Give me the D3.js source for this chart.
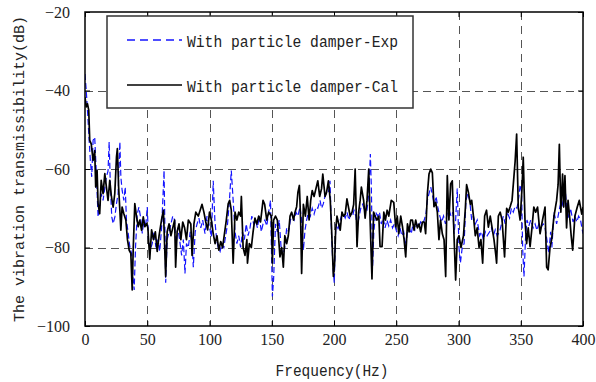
<!DOCTYPE html>
<html>
<head>
<meta charset="utf-8">
<script src="https://cdn.jsdelivr.net/npm/d3@7"></script>
<style>
  html, body { margin: 0; padding: 0; background: #fff; }
  svg { display: block; }
</style>
</head>
<body>
<svg id="chart" width="596" height="382"></svg>
<script>
// Transmissibility spectra: measured (Exp) and calculated (Cal), frequency in Hz, level in dB
const calFreq = [0,1,2,3,3.8,5,6.5,7.8,8.6,9.7,10.5,11.8,13,14.5,15.9,17.2,18.5,19.9,21.2,22.6,23.9,25.3,26,27,28,28.8,29.8,31.2,32.8,34.1,35.5,36.8,37.9,38.7,40,41.4,42.7,44,45.4,46.8,48,49.5,
  50.5,52,53.5,55,56.5,58,59.5,61.6,63,64.8,66,67.5,69,70.5,72,72.8,74,75.5,77,78.5,80,81.5,83,85,86,87.5,89,91,92.5,94,95.5,97,98.5,
  100,101.5,103,104.5,106,107.5,109,110.5,112,113.5,115,116.2,117.5,119,120.5,122,123.5,125,125.6,127,128.5,130,130.5,132,133.6,135,136.5,138,139.5,141,143,144.3,146,147.5,149.7,
  150.5,151.5,153,154.5,156.6,158,159.3,160.5,162,163.3,164.7,166,167.5,168.7,170,171,172.2,173.2,174,175.4,177,178.5,180,181.3,182.5,184,185.5,187,188.5,190,191,192.8,194,195.5,197,198,199.5,
  200.5,201.3,202.4,203.8,205,206.4,207.7,209,210.4,211.8,213,214.5,215.8,217,218.5,219.8,221,222,223.8,225,226.5,227.9,229,230.5,231.8,233,234.5,236,237,238.6,240,241.3,242.7,244,246,248,249.5,
  250.8,252,253.6,255,256.3,257.6,259,260.3,261.6,263,264.3,265.6,267,268.3,269.6,271,272.5,273.6,275,276.3,277.7,279,280.3,281.7,283,284.3,285.6,287,288.4,289.7,291,292.3,293.7,295,296.4,297.7,299,300.4,
  302,304,305.5,306.5,308,309.5,310.6,312,313.5,315,316.5,318,319.4,321,322.5,324,325.5,327,328.5,330,330.6,332,333.5,335,337,338.7,340,341.4,343,344.5,345.5,346.7,348,349.5,351,352,353.4,354.7,356,357.5,359,
  360.5,362,363.5,365.5,367.5,369.5,370.8,372,373.5,374.8,376.7,378.8,380,381,382.2,383.6,384.5,385.5,386.8,388,389.5,390.5,391.7,393.5,395.4,397,399,400];
const calDb = [-41.7,-44.2,-43.4,-45,-52.7,-53.6,-57.8,-55.3,-64.6,-60.3,-68.8,-71.4,-62.9,-66.3,-61.2,-64.6,-68,-62.9,-67,-69.7,-66.3,-56.9,-54.8,-64.6,-70.5,-75.6,-69.7,-71.4,-73,-78,-80.7,-81.5,-90.8,-80.7,-68.8,-72.2,-74.7,-73,-75.6,-72.2,-74.7,-73.9,
  -75,-83,-75.5,-78,-76,-81,-77,-72.7,-70.5,-87.4,-76,-74,-77,-75,-73,-85,-76,-74,-78,-73.5,-75,-78,-73,-74,-82,-74,-71,-72,-70.5,-69,-71,-73.5,-75.5,
  -71,-73,-76.5,-79,-77,-80.7,-78.5,-80,-76.5,-73,-68.9,-68,-70.5,-84,-71,-73,-71,-72,-67,-80,-82,-78,-84,-79,-80,-76,-72.5,-74,-72,-73.5,-68,-69,-73,-71,-72,
  -84,-73,-72,-73,-82.4,-80,-85,-77,-79,-77,-72,-71,-73,-71,-69.6,-66,-64.2,-73,-86.6,-69,-72,-67,-73,-68,-65.5,-67,-65,-63,-67,-65,-61.3,-67,-66,-63,-68,-74.8,-87.4,
  -84,-75.6,-72,-74,-75.6,-71,-72,-71.5,-67.6,-70,-72,-71,-69,-60,-79.8,-71,-68,-64.6,-68,-72.5,-68,-60,-73,-88,-71,-72,-73,-72,-79.8,-79.8,-71,-73,-70.5,-72,-68,-68.5,-74.7,
  -72,-76.5,-72,-74.7,-78,-82.4,-74,-76,-73,-73,-75.6,-73,-75,-74,-76,-73.5,-73.5,-76.5,-66.3,-61.3,-60,-61,-69.6,-68.5,-71,-78,-73,-76.5,-78,-87.4,-61.7,-73,-63.8,-63,-77,-88.3,-78,-77,
  -80,-77,-70,-64,-66,-69,-68,-72,-77,-75,-80,-78,-84,-72,-70.5,-74.8,-72,-75,-78,-82,-84,-72,-71,-73,-82.4,-70,-71,-69.7,-68,-62,-58,-51.1,-69.7,-73,-65,-57,-73,-79,-75,-79.8,-75,
  -69.7,-71,-69.7,-76.5,-73,-69.7,-85,-85.7,-80,-78,-72,-68,-64,-53.7,-71,-61.3,-69.7,-61.7,-75,-68,-73,-77,-80.7,-72,-69.7,-68,-71.5,-69.7];

const expFreq = [0,1,2,3.2,4.3,5.4,6.5,7.8,9,10.5,11.8,13,14.5,16,17.2,18.5,19.4,20.4,21.5,22.6,24,25.3,26.6,28,28.8,29.8,31.2,32.3,33.3,34.7,36,37.4,38.7,39.5,40.6,42,43.3,44.6,46,47.3,48.7,50,
  51,52.5,54,55.5,57,58.5,60,61.5,62.5,63.5,64.8,66,67.5,69,70.5,72,73,74.5,76,77.6,79,80.3,81.5,83,84.5,86,87,88.5,90,91.5,93,94.5,96.4,98,99.5,
  101.5,103,104.3,105.7,107,108.5,110,111.5,113,114.5,116,117.5,119,120.5,122,123.5,125,126.5,128,129.5,131,132.5,134,135.5,137,138.5,140,141.6,143,144.5,146,147.5,149,150.5,
  151.5,153,154.5,156,157.5,159,160.5,162,163.5,165,166.5,168,169.5,171,172.7,174,175.4,176.7,178,179.5,181,182.5,184,185.5,187,188.8,190,191.4,192.7,194,195.5,196.8,198,199.2,200.2,
  201.5,203,204.5,206,207.5,209,210.5,212,213.5,215,216,217.5,218.5,220,221.5,223,224.5,226.5,228,229.2,230,231,232,233.5,235,236.5,238,239.5,241,242.5,244,245.5,247,248.5,250,
  251.5,253,254.5,256,257.6,259,260.5,262,263.5,265,266.5,268,269.5,271,272.5,274,275,276.5,277.7,279,280.5,282,283.5,285,286.5,288,289.5,291,292.5,294,295.5,296.4,297.7,299,300.4,
  301.5,303,304.5,306,307.5,309,310.6,312,313.5,315,317,318.5,320,321.5,323,325,326.5,328,329.5,331,333,334.5,336,337.5,339,341,342.5,344,345.5,347,348.5,349.5,350.7,351.5,352.6,353.8,355,356.5,358,
  360,361.5,363,364.5,366,368,369.5,371,372.5,374,375,376.7,378.8,380,381.5,383,384.3,385.5,387,388.5,390,392,393.5,395,396.5,398,400];
const expDb = [-35.8,-40,-45,-51.9,-57.8,-62,-52.7,-51.9,-60.3,-72.2,-69.7,-66.3,-68,-64.6,-62,-60.5,-53.1,-64.6,-72.2,-73.9,-72.2,-68.8,-66.3,-53.1,-62,-65.4,-68,-64.6,-73,-76.4,-79.8,-81.5,-88.3,-90.8,-79.8,-71.4,-69.7,-72.2,-76.4,-73,-74.7,-69.7,
  -78,-80.5,-79,-76,-80,-78,-81,-75,-68,-60.4,-89,-78,-76,-74,-72,-73,-80,-75,-78,-82,-78,-86.6,-79,-80,-76,-79,-85,-76,-74,-72.5,-75,-73,-76.5,-72,-74,
  -77.3,-63,-73,-78,-80,-81,-79,-80,-77,-74,-68,-60.4,-68,-76,-79,-77,-80,-76,-78,-74,-77,-75,-72,-74,-73,-75,-72,-76,-74,-73,-74.5,-71,-68,-92.5,
  -88,-74,-76,-73,-80,-82,-80,-75,-76,-73,-72,-73,-71,-72,-69.7,-73,-80.7,-75.6,-73,-71,-72,-70,-71.5,-69.7,-70,-68,-70,-68.9,-67,-66,-66,-63,-76.5,-85,-89,
  -74,-75.6,-73.5,-72,-71.5,-72.5,-71,-73,-71.5,-72,-70.5,-72,-74.8,-72.5,-70,-69,-70.5,-70.5,-66,-56.2,-64.6,-85,-76,-71,-72,-71,-74,-72.5,-75,-73,-74.5,-73,-75,-74,-75.6,
  -77,-75,-77,-76,-79.8,-76,-75,-76.5,-74,-75.5,-74,-75,-73.5,-74,-73,-71,-68,-66,-64.6,-66.5,-69,-67,-70,-72,-73.5,-72,-74,-71,-70.5,-72,-71,-76.5,-73,-65,-80,
  -84,-80,-79,-68,-66.3,-68,-73,-72,-74,-73,-77,-76,-78,-76,-77,-76,-75,-77,-75.5,-77,-76,-74,-72,-74,-71,-72.5,-70,-71,-69.5,-70,-67,-64,-66,-80,-87.4,-78,-73,-74.5,-73,
  -75,-74,-75.6,-74,-75,-74,-75,-78,-81.5,-76,-80,-71,-74,-72,-69.5,-68,-70,-64.6,-70,-72.5,-70,-73.5,-72,-73.5,-72,-73,-76.5];

const xTicks = [0, 50, 100, 150, 200, 250, 300, 350, 400];
const yTicks = [-100, -80, -60, -40, -20];
const seriesNames = ["With particle damper-Exp", "With particle damper-Cal"];
const xTitle = "Frequency(Hz)";
const yTitle = "The vibration transmissibility(dB)";

const svg = d3.select("#chart");
const plotLeft = 85, plotRight = 583, plotTop = 12, plotBottom = 326;

const x = d3.scaleLinear().domain([0, 400]).range([plotLeft, plotRight]);
const y = d3.scaleLinear().domain([-100, -20]).range([plotBottom, plotTop]);

const monoFont = "'Liberation Mono', 'DejaVu Sans Mono', monospace";
const serifFont = "'Liberation Serif', 'DejaVu Serif', serif";

svg.append("rect").attr("width", 596).attr("height", 382).attr("fill", "#fff");

// dashed grid
const grid = svg.append("g").attr("stroke", "#555").attr("stroke-width", 1).attr("fill", "none");
grid.selectAll("line.v").data(xTicks.filter(t => t > 0 && t < 400)).join("line")
  .attr("class", "v")
  .attr("x1", d => Math.round(x(d)) + 0.5).attr("x2", d => Math.round(x(d)) + 0.5)
  .attr("y1", plotTop).attr("y2", plotBottom)
  .attr("stroke-dasharray", "8,6");
grid.selectAll("line.h").data(yTicks.filter(t => t > -100 && t < -20)).join("line")
  .attr("class", "h")
  .attr("x1", plotLeft).attr("x2", plotRight)
  .attr("y1", d => Math.round(y(d)) + 0.5).attr("y2", d => Math.round(y(d)) + 0.5)
  .attr("stroke-dasharray", "8,5");

svg.append("clipPath").attr("id", "plotClip")
  .append("rect").attr("x", plotLeft).attr("y", plotTop)
  .attr("width", plotRight - plotLeft).attr("height", plotBottom - plotTop);

const line = d3.line().x(d => x(d[0])).y(d => y(d[1]));
const plot = svg.append("g").attr("clip-path", "url(#plotClip)");

plot.append("path")
  .datum(d3.zip(expFreq, expDb))
  .attr("d", line)
  .attr("fill", "none")
  .attr("stroke", "#1414ff")
  .attr("stroke-width", 1.2)
  .attr("stroke-dasharray", "6,3");

plot.append("path")
  .datum(d3.zip(calFreq, calDb))
  .attr("d", line)
  .attr("fill", "none")
  .attr("stroke", "#000")
  .attr("stroke-width", 1.7)
  .attr("stroke-linejoin", "round");

// axes with inward ticks
const axisStyle = g => {
  g.attr("font-family", serifFont).attr("font-size", 16);
  g.select(".domain").remove();
  g.selectAll(".tick line").attr("stroke", "#000");
  g.selectAll(".tick text").attr("fill", "#222");
};

svg.append("g").attr("transform", `translate(0,${plotBottom})`)
  .call(d3.axisBottom(x).tickValues(xTicks).tickSizeInner(-5).tickSizeOuter(0).tickPadding(8).tickFormat(d3.format("d")))
  .call(axisStyle);
svg.append("g").attr("transform", `translate(0,${plotTop})`)
  .call(d3.axisTop(x).tickValues(xTicks).tickSizeInner(-5).tickSizeOuter(0).tickFormat(""))
  .call(axisStyle);
svg.append("g").attr("transform", `translate(${plotLeft},0)`)
  .call(d3.axisLeft(y).tickValues(yTicks).tickSizeInner(-5).tickSizeOuter(0).tickPadding(15).tickFormat(d3.format("d")))
  .call(axisStyle);
svg.append("g").attr("transform", `translate(${plotRight},0)`)
  .call(d3.axisRight(y).tickValues(yTicks).tickSizeInner(-5).tickSizeOuter(0).tickFormat(""))
  .call(axisStyle);

// plot frame
svg.append("rect")
  .attr("x", plotLeft).attr("y", plotTop)
  .attr("width", plotRight - plotLeft).attr("height", plotBottom - plotTop)
  .attr("fill", "none").attr("stroke", "#000").attr("stroke-width", 1.5);

// legend
const legend = svg.append("g");
legend.append("rect")
  .attr("x", 107).attr("y", 16).attr("width", 306).attr("height", 92)
  .attr("fill", "#fff").attr("stroke", "#333").attr("stroke-width", 1.5);
const legendRows = [
  { name: seriesNames[0], color: "#1414ff", dash: "8,5", ly: 40, ty: 47 },
  { name: seriesNames[1], color: "#000", dash: null, ly: 85, ty: 92 }
];
legendRows.forEach(r => {
  legend.append("line")
    .attr("x1", 127).attr("x2", 182).attr("y1", r.ly).attr("y2", r.ly)
    .attr("stroke", r.color).attr("stroke-width", 1.5)
    .attr("stroke-dasharray", r.dash);
  legend.append("text")
    .attr("x", 187).attr("y", r.ty)
    .attr("font-family", monoFont).attr("font-size", 16)
    .attr("textLength", 211).attr("lengthAdjust", "spacingAndGlyphs")
    .attr("fill", "#222")
    .text(r.name);
});

// axis titles
svg.append("text")
  .attr("x", (plotLeft + plotRight) / 2 - 2).attr("y", 376)
  .attr("text-anchor", "middle")
  .attr("font-family", monoFont).attr("font-size", 16)
  .attr("textLength", 113).attr("lengthAdjust", "spacingAndGlyphs")
  .attr("fill", "#222")
  .text(xTitle);

svg.append("text")
  .attr("transform", `translate(24,${(plotTop + plotBottom) / 2}) rotate(-90)`)
  .attr("text-anchor", "middle")
  .attr("font-family", monoFont).attr("font-size", 15)
  .attr("fill", "#222")
  .text(yTitle);
</script>
</body>
</html>
